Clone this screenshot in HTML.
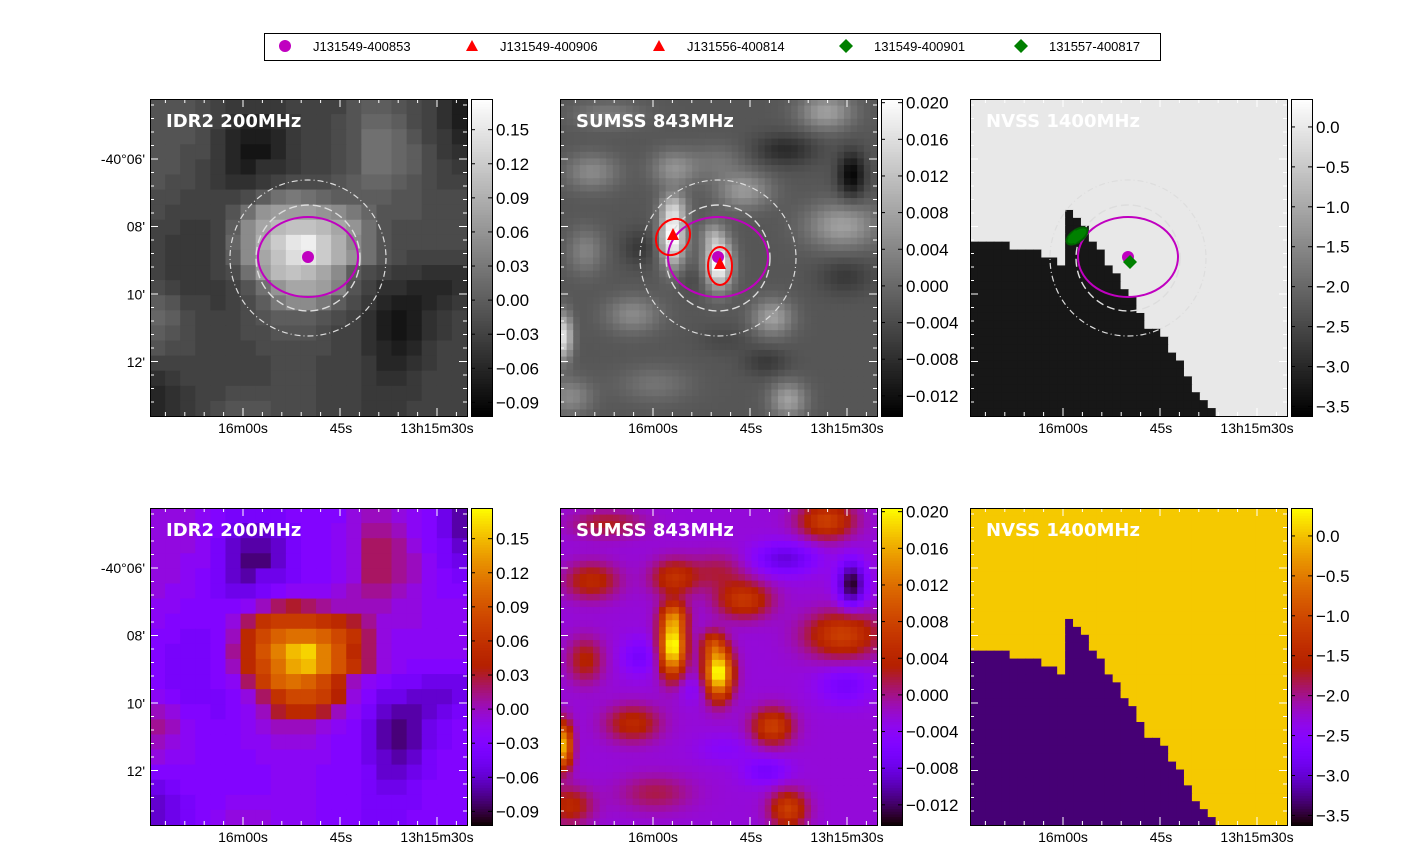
<!DOCTYPE html>
<html><head><meta charset="utf-8"><style>
body{margin:0;background:#fff;}
svg{display:block;font-family:"Liberation Sans",sans-serif;}
</style></head><body>
<svg id="fig" width="1407" height="856" viewBox="0 0 1407 856">
<rect x="0" y="0" width="1407" height="856" fill="#fff"/>
<g id="legend">
<rect x="264.5" y="33.5" width="896" height="27" fill="#fff" stroke="#000"/>
<circle cx="285" cy="46" r="6" fill="#c000c0"/>
<text x="313" y="51" font-size="13">J131549-400853</text>
<polygon points="472,40 478,51 466,51" fill="#ff0000"/>
<text x="500" y="51" font-size="13">J131549-400906</text>
<polygon points="659,40 665,51 653,51" fill="#ff0000"/>
<text x="687" y="51" font-size="13">J131556-400814</text>
<polygon points="846,39 853,46 846,53 839,46" fill="#008000"/>
<text x="874" y="51" font-size="13">131549-400901</text>
<polygon points="1021,39 1028,46 1021,53 1014,46" fill="#008000"/>
<text x="1049" y="51" font-size="13">131557-400817</text>
</g>
</svg>
<script>
// ---------- data ----------
const idr2Values = [
[-0.01,-0.01,-0.01,-0.02,-0.03,-0.04,-0.04,-0.04,-0.04,-0.03,-0.03,-0.03,-0.03,-0.01,0.00,0.00,-0.01,-0.02,-0.03,-0.05,-0.07],
[-0.01,-0.01,-0.01,-0.02,-0.03,-0.05,-0.06,-0.06,-0.05,-0.04,-0.03,-0.03,-0.02,-0.01,0.01,0.01,0.00,-0.02,-0.03,-0.05,-0.07],
[-0.01,-0.01,-0.01,-0.02,-0.04,-0.06,-0.07,-0.07,-0.06,-0.04,-0.03,-0.03,-0.02,-0.01,0.02,0.02,0.01,-0.01,-0.03,-0.04,-0.06],
[-0.01,-0.01,-0.02,-0.02,-0.04,-0.06,-0.08,-0.08,-0.06,-0.04,-0.03,-0.03,-0.02,-0.01,0.02,0.02,0.01,0.00,-0.02,-0.04,-0.05],
[-0.01,-0.01,-0.02,-0.03,-0.04,-0.06,-0.07,-0.05,-0.05,-0.04,-0.03,-0.03,-0.02,-0.01,0.02,0.02,0.01,0.00,-0.02,-0.03,-0.04],
[-0.01,-0.02,-0.02,-0.03,-0.04,-0.05,-0.05,-0.04,-0.03,-0.02,-0.02,-0.02,-0.01,0.00,0.01,0.01,0.00,-0.01,-0.02,-0.03,-0.03],
[-0.02,-0.02,-0.03,-0.03,-0.03,-0.03,-0.02,0.00,0.02,0.03,0.02,0.01,0.00,0.00,0.00,0.00,-0.01,-0.01,-0.02,-0.02,-0.02],
[-0.02,-0.03,-0.03,-0.03,-0.03,-0.01,0.02,0.06,0.07,0.07,0.07,0.06,0.05,0.03,0.01,-0.01,-0.01,-0.01,-0.02,-0.02,-0.02],
[-0.03,-0.03,-0.04,-0.04,-0.03,0.00,0.05,0.08,0.10,0.11,0.11,0.10,0.08,0.06,0.02,-0.01,-0.02,-0.02,-0.02,-0.02,-0.02],
[-0.03,-0.04,-0.04,-0.04,-0.03,0.01,0.05,0.09,0.12,0.15,0.16,0.12,0.09,0.05,0.02,-0.01,-0.02,-0.02,-0.02,-0.02,-0.02],
[-0.03,-0.04,-0.04,-0.04,-0.03,0.00,0.05,0.08,0.11,0.14,0.15,0.12,0.09,0.06,0.02,-0.01,-0.02,-0.03,-0.03,-0.03,-0.03],
[-0.03,-0.04,-0.04,-0.04,-0.03,-0.02,0.02,0.07,0.10,0.11,0.10,0.08,0.05,0.00,-0.02,-0.03,-0.04,-0.04,-0.05,-0.05,-0.05],
[-0.02,-0.03,-0.04,-0.04,-0.04,-0.03,-0.01,0.02,0.06,0.08,0.08,0.07,0.04,-0.01,-0.03,-0.05,-0.05,-0.06,-0.06,-0.06,-0.05],
[0.00,-0.01,-0.03,-0.03,-0.04,-0.03,-0.02,0.00,0.03,0.05,0.05,0.03,0.00,-0.02,-0.04,-0.06,-0.07,-0.07,-0.06,-0.05,-0.04],
[0.01,0.00,-0.02,-0.03,-0.03,-0.03,-0.02,-0.01,0.00,0.00,0.00,-0.01,-0.02,-0.03,-0.05,-0.07,-0.08,-0.07,-0.05,-0.04,-0.03],
[0.00,-0.01,-0.02,-0.03,-0.03,-0.03,-0.02,-0.02,-0.01,-0.01,-0.01,-0.02,-0.03,-0.03,-0.05,-0.07,-0.08,-0.07,-0.05,-0.04,-0.03],
[-0.01,-0.02,-0.02,-0.03,-0.03,-0.03,-0.03,-0.02,-0.02,-0.02,-0.02,-0.02,-0.03,-0.03,-0.05,-0.06,-0.07,-0.06,-0.04,-0.03,-0.03],
[-0.03,-0.03,-0.03,-0.03,-0.03,-0.03,-0.03,-0.03,-0.02,-0.02,-0.02,-0.03,-0.03,-0.03,-0.04,-0.06,-0.06,-0.05,-0.04,-0.03,-0.03],
[-0.05,-0.04,-0.03,-0.03,-0.03,-0.03,-0.03,-0.03,-0.02,-0.02,-0.02,-0.03,-0.03,-0.03,-0.04,-0.05,-0.05,-0.04,-0.03,-0.03,-0.03],
[-0.06,-0.05,-0.04,-0.03,-0.03,-0.02,-0.02,-0.02,-0.02,-0.02,-0.02,-0.03,-0.03,-0.03,-0.04,-0.04,-0.04,-0.04,-0.03,-0.03,-0.03],
[-0.06,-0.05,-0.04,-0.03,-0.02,-0.01,-0.01,-0.01,-0.02,-0.02,-0.02,-0.03,-0.03,-0.03,-0.04,-0.04,-0.04,-0.03,-0.03,-0.03,-0.03]
];
const idr2Range = [-0.102, 0.177];
const idr2Ticks = [0.15,0.12,0.09,0.06,0.03,0.00,-0.03,-0.06,-0.09];
const idr2TickLabels = ["0.15","0.12","0.09","0.06","0.03","0.00","\u22120.03","\u22120.06","\u22120.09"];

// SUMSS: background level plus emission components [xFrac, yFrac, amplitude, sigmaX, sigmaY]
const sumssBackground = -0.0025;
const sumssComponents = [
[0.355,0.434,0.024,0.028,0.065],[0.50,0.52,0.024,0.03,0.055],[0.01,0.75,0.019,0.02,0.05],
[0.58,0.29,0.009,0.06,0.04],[0.89,0.40,0.010,0.08,0.05],[0.67,0.69,0.010,0.045,0.04],
[0.36,0.22,0.008,0.05,0.04],[0.84,0.04,0.010,0.06,0.04],[0.10,0.23,0.007,0.06,0.04],
[0.23,0.68,0.007,0.06,0.04],[0.72,0.95,0.010,0.04,0.04],[0.08,0.48,0.006,0.04,0.05],
[0.03,0.94,0.007,0.05,0.04],[0.36,0.34,0.008,0.03,0.03],[0.48,0.43,0.007,0.025,0.03],
[0.15,0.05,0.005,0.08,0.03],[0.50,0.20,0.004,0.06,0.04],[0.30,0.90,0.004,0.08,0.04],
[0.71,0.16,-0.006,0.07,0.035],[0.92,0.24,-0.011,0.03,0.05],[0.25,0.47,-0.004,0.04,0.04],
[0.90,0.56,-0.004,0.06,0.04],[0.65,0.83,-0.004,0.05,0.03],[0.42,0.57,-0.002,0.04,0.03],
[0.52,0.76,-0.002,0.06,0.03]
];
const sumssRange = [-0.0142, 0.0204];
const sumssTicks = [0.020,0.016,0.012,0.008,0.004,0.000,-0.004,-0.008,-0.012];
const sumssTickLabels = ["0.020","0.016","0.012","0.008","0.004","0.000","\u22120.004","\u22120.008","\u22120.012"];

// NVSS: per-column (of 40) first row (of 40) of the low-valued region
const nvssBoundary = [18,18,18,18,18,19,19,19,19,20,20,21,14,15,16,18,19,21,22,24,25,27,29,29,30,32,33,35,37,38,39,40,40,40,40,40,40,40,40,40];
const nvssHigh = 0.05, nvssLow = -3.32;
const nvssRange = [-3.62, 0.35];
const nvssTicks = [0.0,-0.5,-1.0,-1.5,-2.0,-2.5,-3.0,-3.5];
const nvssTickLabels = ["0.0","\u22120.5","\u22121.0","\u22121.5","\u22122.0","\u22122.5","\u22123.0","\u22123.5"];

const xTickLabels = ["16m00s","45s","13h15m30s"];
const yTickLabels = ["-40\u00b006'","08'","10'","12'"];

// ---------- helpers ----------
const NS = "http://www.w3.org/2000/svg";
const svg = document.getElementById('fig');
function mk(tag, attrs, parent){const e=document.createElementNS(NS,tag);for(const k in attrs)e.setAttribute(k,attrs[k]);(parent||svg).appendChild(e);return e;}
function clamp(v){return Math.max(0,Math.min(1,v));}
function gnuplot(t){t=clamp(t);const r=Math.sqrt(t),g=t*t*t,b=Math.max(0,Math.sin(2*Math.PI*t));
return `rgb(${Math.round(r*255)},${Math.round(g*255)},${Math.round(b*255)})`;}
function gray(t){const v=Math.round(clamp(t)*255);return `rgb(${v},${v},${v})`;}

const P = 317;
const colX = [150,560,970];
const rowY = [99,508];

function heat(x0,y0,grid,range,cmap,name){
  const g=mk('g',{});
  
  
  const nr=grid.length,nc=grid[0].length;
  const sx=c=>x0+c*P/nc, sy=r=>y0+r*P/nr;
  for(let r=0;r<nr;r++)for(let c=0;c<nc;c++){
    const t=(grid[r][c]-range[0])/(range[1]-range[0]);
    mk('rect',{x:sx(c).toFixed(2),y:sy(r).toFixed(2),width:(P/nc+0.6).toFixed(2),height:(P/nr+0.6).toFixed(2),fill:cmap(t)},g);
  }
}
function sumssGrid(n){
  const grid=[];
  for(let r=0;r<n;r++){const row=[];for(let c=0;c<n;c++){
    const x=(c+0.5)/n,y=(r+0.5)/n;let v=sumssBackground;
    for(const k of sumssComponents){const dx=(x-k[0])/k[3],dy=(y-k[1])/k[4];v+=k[2]*Math.exp(-0.5*(dx*dx+dy*dy));}
    row.push(v);}grid.push(row);}
  return grid;
}
function nvssGrid(){
  const grid=[];
  for(let r=0;r<40;r++){const row=[];for(let c=0;c<40;c++)row.push(r>=nvssBoundary[c]?nvssLow:nvssHigh);grid.push(row);}
  return grid;
}
function axesDecor(x0,y0,title,showY,xLabelY){
  const g=mk('g',{stroke:'#fff','stroke-width':1});
  
  
  const xMaj=[x0+93,x0+191,x0+287];
  for(let i=-4;i<=20;i++){const x=x0+93+i*19.4;if(x<=x0+1||x>=x0+P-1)continue;const len=(i%5===0)?8:4;
    mk('line',{x1:x,y1:y0+P,x2:x,y2:y0+P-len},g);mk('line',{x1:x,y1:y0,x2:x,y2:y0+len},g);}
  for(let i=-4;i<=20;i++){const y=y0+60+i*13.5;if(y<=y0+1||y>=y0+P-1)continue;const len=(i%5===0)?8:4;
    mk('line',{x1:x0,y1:y,x2:x0+len,y2:y},g);mk('line',{x1:x0+P,y1:y,x2:x0+P-len,y2:y},g);}
  mk('rect',{x:x0+0.5,y:y0+0.5,width:P,height:P,fill:'none',stroke:'#000','stroke-width':1});
  const t=mk('text',{x:x0+16,y:y0+28,fill:'#fff','font-size':18,'font-weight':'bold','font-family':'"DejaVu Sans",sans-serif'});
  t.textContent=title;
  
  
  xTickLabels.forEach((s,i)=>{const e=mk('text',{x:xMaj[i],y:xLabelY,'font-size':14,'text-anchor':'middle'});e.textContent=s;
    
    });
  if(showY){yTickLabels.forEach((s,i)=>{const e=mk('text',{x:x0-5,y:y0+60+i*67.7+5,'font-size':14,'text-anchor':'end'});e.textContent=s;
    
    });}
}
function colorbar(x0,y0,range,cmap,ticks,labels){
  const g=mk('g',{});
  
  
  const w=21,n=120;
  for(let i=0;i<n;i++){mk('rect',{x:x0,y:(y0+i*P/n).toFixed(2),width:w,height:(P/n+0.5).toFixed(2),fill:cmap(1-(i+0.5)/n)},g);}
  mk('rect',{x:x0+0.5,y:y0+0.5,width:w,height:P,fill:'none',stroke:'#000'},g);
  const ty=v=>y0+P-(v-range[0])/(range[1]-range[0])*P;
  ticks.forEach((v,i)=>{const y=ty(v);
    mk('line',{x1:x0+w-4,y1:y,x2:x0+w,y2:y,stroke:'#000'},g);mk('line',{x1:x0,y1:y,x2:x0+4,y2:y,stroke:'#000'},g);
    const e=mk('text',{x:x0+w+4,y:y+6,'font-size':17},g);e.textContent=labels[i];
    
    });
}
const sGrid=sumssGrid(48);
const nGrid=nvssGrid();
heat(colX[0],rowY[0],idr2Values,idr2Range,gray,'idr2-gray-map');
heat(colX[1],rowY[0],sGrid,sumssRange,gray,'sumss-gray-map');
heat(colX[2],rowY[0],nGrid,nvssRange,t=>gray(t<0.5?0.09:0.91),'nvss-gray-map');
heat(colX[0],rowY[1],idr2Values,idr2Range,gnuplot,'idr2-color-map');
heat(colX[1],rowY[1],sGrid,sumssRange,gnuplot,'sumss-color-map');
heat(colX[2],rowY[1],nGrid,nvssRange,gnuplot,'nvss-color-map');

function overlays(cx,cy,idx){
  const g=mk('g',{fill:'none'});
  
  
  mk('ellipse',{cx:cx,cy:cy+1,rx:78,ry:78,stroke:'#ddd','stroke-dasharray':'6,3,1,3','stroke-width':1.2},g);
  mk('ellipse',{cx:cx,cy:cy+1,rx:52,ry:53,stroke:'#ddd','stroke-dasharray':'8,4','stroke-width':1.4},g);
  mk('ellipse',{cx:cx,cy:cy,rx:50,ry:40,stroke:'#c000c0','stroke-width':2},g);
  if(idx===1){
    mk('ellipse',{cx:cx-45,cy:cy-20,rx:16,ry:19,stroke:'#ff0000','stroke-width':2,transform:`rotate(35 ${cx-45} ${cy-20})`},g);
    mk('ellipse',{cx:cx+2,cy:cy+9,rx:12,ry:19,stroke:'#ff0000','stroke-width':2},g);
  }
  if(idx===2){mk('ellipse',{cx:cx-51,cy:cy-21,rx:12,ry:6,stroke:'#006000','fill':'#008000','stroke-width':2,transform:`rotate(-35 ${cx-51} ${cy-21})`},g);}
  mk('circle',{cx:cx,cy:cy,r:6,fill:'#c000c0'},g);
  if(idx===1){
    mk('polygon',{points:`${cx-45},${cy-29} ${cx-39},${cy-17} ${cx-51},${cy-17}`,fill:'#ff0000'},g);
    mk('polygon',{points:`${cx+2},${cy} ${cx+8},${cy+12} ${cx-4},${cy+12}`,fill:'#ff0000'},g);
  }
  if(idx===2){
    mk('polygon',{points:`${cx-53},${cy-27} ${cx-46},${cy-20} ${cx-53},${cy-13} ${cx-60},${cy-20}`,fill:'#008000'},g);
    mk('polygon',{points:`${cx+2},${cy-2} ${cx+9},${cy+5} ${cx+2},${cy+12} ${cx-5},${cy+5}`,fill:'#008000'},g);
  }
}
[0,1,2].forEach(i=>overlays(colX[i]+158,257,i));

const titles=["IDR2 200MHz","SUMSS 843MHz","NVSS 1400MHz"];
[0,1].forEach(r=>[0,1,2].forEach(c=>axesDecor(colX[c],rowY[r],titles[c],c===0,rowY[r]+334)));

colorbar(471,rowY[0],idr2Range,gray,idr2Ticks,idr2TickLabels);
colorbar(881,rowY[0],sumssRange,gray,sumssTicks,sumssTickLabels);
colorbar(1291,rowY[0],nvssRange,gray,nvssTicks,nvssTickLabels);
colorbar(471,rowY[1],idr2Range,gnuplot,idr2Ticks,idr2TickLabels);
colorbar(881,rowY[1],sumssRange,gnuplot,sumssTicks,sumssTickLabels);
colorbar(1291,rowY[1],nvssRange,gnuplot,nvssTicks,nvssTickLabels);
svg.appendChild(document.getElementById('legend'));
</script>
</body></html>
